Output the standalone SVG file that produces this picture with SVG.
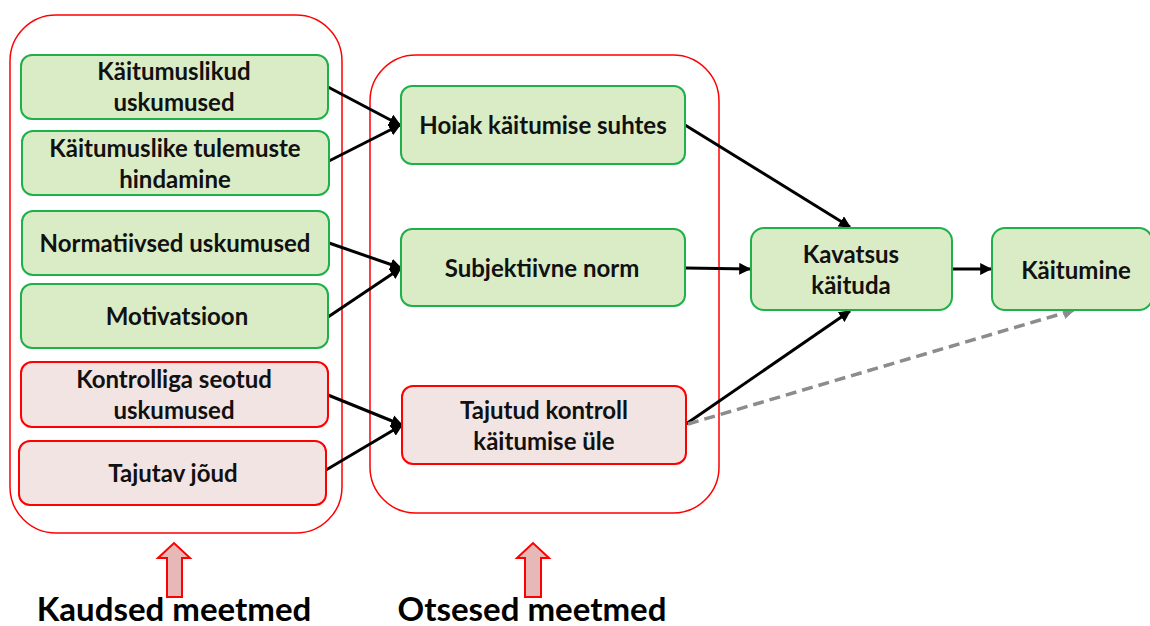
<svg xmlns="http://www.w3.org/2000/svg" width="1150" height="626" viewBox="0 0 1150 626">
<style>
.cont{fill:none;stroke:#ff0000;stroke-width:1.5}
.g{fill:#d9ecc6;stroke:#20b04b;stroke-width:2}
.p{fill:#f3e4e4;stroke:#ff0000;stroke-width:2}
.t{font-family:Lato,"Liberation Sans",sans-serif;font-weight:bold;font-size:24px;fill:#111;text-anchor:middle}
.big{font-family:Lato,"Liberation Sans",sans-serif;font-weight:bold;font-size:33px;fill:#000;text-anchor:middle}
.c{stroke:#000;stroke-width:3;fill:none;marker-end:url(#ah)}
.d{stroke:#8c8c8c;stroke-width:3.5;stroke-dasharray:11,6;fill:none;marker-end:url(#ahg)}
.blk{fill:#e6b8b7;stroke:#ff0000;stroke-width:2}
</style>
<defs>
<marker id="ah" viewBox="0 0 10 10" refX="9" refY="5" markerWidth="4" markerHeight="4" orient="auto" markerUnits="strokeWidth">
<path d="M0,0 L10,5 L0,10 z" fill="#000"/>
</marker>
<marker id="ahg" viewBox="0 0 10 10" refX="9" refY="5" markerWidth="3.5" markerHeight="3.5" orient="auto" markerUnits="strokeWidth">
<path d="M0,0 L10,5 L0,10 z" fill="#8c8c8c"/>
</marker>
</defs>
<g id="container-kaudsed"><rect class="cont" x="10" y="15" width="332" height="518" rx="46"/></g>
<g id="container-otsesed"><rect class="cont" x="370" y="55" width="349" height="458" rx="46"/></g>
<g id="connectors">
<line class="c" x1="328" y1="87" x2="400" y2="125"/>
<line class="c" x1="329" y1="161" x2="400" y2="125"/>
<line class="c" x1="329" y1="243" x2="401" y2="268"/>
<line class="c" x1="328" y1="317" x2="401" y2="268"/>
<line class="c" x1="328" y1="395" x2="402" y2="425"/>
<line class="c" x1="326" y1="470" x2="402" y2="425"/>
<line class="c" x1="685" y1="125" x2="850" y2="227"/>
<line class="c" x1="685" y1="268" x2="750" y2="269"/>
<line class="c" x1="686" y1="424" x2="850" y2="311"/>
<line class="c" x1="952" y1="269" x2="991" y2="269"/>
<line class="d" x1="688" y1="424" x2="1074" y2="310"/>
</g>
<g id="n1"><rect class="g" x="21" y="55" width="307" height="64" rx="11"/><text class="t" x="174" y="80">Käitumuslikud</text><text class="t" x="174" y="111">uskumused</text></g>
<g id="n2"><rect class="g" x="22" y="131" width="307" height="64" rx="11"/><text class="t" x="175" y="157">Käitumuslike tulemuste</text><text class="t" x="175" y="188">hindamine</text></g>
<g id="n3"><rect class="g" x="22" y="211" width="307" height="64" rx="11"/><text class="t" x="175" y="252">Normatiivsed uskumused</text></g>
<g id="n4"><rect class="g" x="21" y="284" width="307" height="64" rx="11"/><text class="t" x="177" y="325">Motivatsioon</text></g>
<g id="n5"><rect class="p" x="21" y="362" width="307" height="65" rx="11"/><text class="t" x="174" y="388">Kontrolliga seotud</text><text class="t" x="174" y="419">uskumused</text></g>
<g id="n6"><rect class="p" x="19" y="441" width="307" height="64" rx="11"/><text class="t" x="173" y="482">Tajutav jõud</text></g>
<g id="n7"><rect class="g" x="401" y="86" width="284" height="78" rx="11"/><text class="t" x="543" y="134">Hoiak käitumise suhtes</text></g>
<g id="n8"><rect class="g" x="401" y="229" width="284" height="77" rx="11"/><text class="t" x="542" y="277">Subjektiivne norm</text></g>
<g id="n9"><rect class="p" x="402" y="386" width="284" height="78" rx="11"/><text class="t" x="544" y="419">Tajutud kontroll</text><text class="t" x="544" y="450">käitumise üle</text></g>
<g id="n10"><rect class="g" x="751" y="228" width="201" height="82" rx="13"/><text class="t" x="851" y="263">Kavatsus</text><text class="t" x="851" y="294">käituda</text></g>
<g id="n11"><rect class="g" x="992" y="228" width="160" height="82" rx="13"/><text class="t" x="1076" y="279">Käitumine</text></g>
<g id="label-kaudsed"><path class="blk" d="M167,597 L167,558 L158,558 L174,543 L190,558 L182,558 L182,597 Z"/><text class="big" x="174" y="621">Kaudsed meetmed</text></g>
<g id="label-otsesed"><path class="blk" d="M525,597 L525,558 L517,558 L533,543 L549,558 L541,558 L541,597 Z"/><text class="big" x="532" y="621">Otsesed meetmed</text></g>
</svg>
